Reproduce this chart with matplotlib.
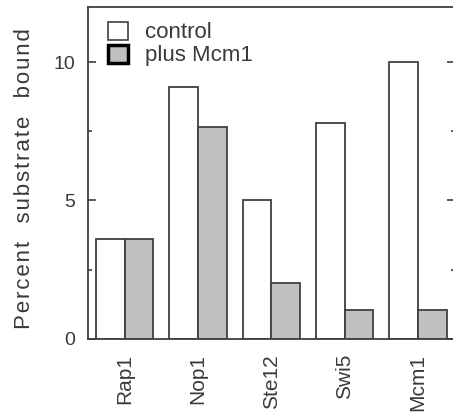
import matplotlib
matplotlib.use("Agg")
import matplotlib.pyplot as plt
import numpy as np
from matplotlib.patches import Patch

plt.rcParams['font.family'] = ['Liberation Sans', 'DejaVu Sans']

# values (percent substrate bound)
proteins = ['Rap1', 'Nop1', 'Ste12', 'Swi5', 'Mcm1']
control = [3.6, 9.1, 5.0, 7.8, 10.0]
plus_mcm1 = [3.6, 7.65, 2.0, 1.05, 1.05]

edge = '#404040'
grey = '#c0c0c0'
txt = '#3a3a3a'

fig = plt.figure(figsize=(4.53, 4.12), dpi=100)
ax = fig.add_axes([88/453, 73.3/412, 366.7/453, 331.7/412])

x = np.arange(len(proteins))
w = 0.39
ax.bar(x - w/2, control, w, color='white', edgecolor=edge, linewidth=1.3)
ax.bar(x + w/2, plus_mcm1, w, color=grey, edgecolor=edge, linewidth=1.3)

ax.set_xlim(-0.5, 4.5)
ax.set_ylim(0, 12)
ax.set_xticks(x)
ax.set_xticklabels(proteins, rotation=90, fontsize=15, color=txt)
ax.tick_params(axis='x', length=0, pad=11)
ax.set_yticks([0, 5, 10])
ax.set_yticks([2.5, 7.5], minor=True)
ax.tick_params(axis='y', which='major', direction='in', length=6, width=1.2,
               colors=edge, labelcolor=txt, labelsize=14, pad=9,
               right=True)
ax.tick_params(axis='y', which='minor', direction='in', length=3, width=1.2,
               colors=edge, right=True)
for s in ax.spines.values():
    s.set_color(edge)
    s.set_linewidth(1.3)

# letter-spaced axis title
words = ['Percent', 'substrate', 'bound']
ylab = '   '.join('\u200a'.join(wd) for wd in words)
fig.text(25/453, 1 - 179/412, ylab, rotation=90,
         ha='center', va='center', fontsize=16, color=txt)

handles = [Patch(facecolor='white', edgecolor=edge, linewidth=1.2),
           Patch(facecolor=grey, edgecolor='black', linewidth=2.5)]
ax.legend(handles, ['control', 'plus Mcm1'], loc='upper left',
          bbox_to_anchor=(92/453, 1 - 6/412), bbox_transform=fig.transFigure,
          frameon=False, fontsize=16, handlelength=0.9, handleheight=0.9,
          handletextpad=0.8, labelspacing=0.05, borderpad=0.2,
          labelcolor=txt)

fig.savefig('out.png', dpi=100)
